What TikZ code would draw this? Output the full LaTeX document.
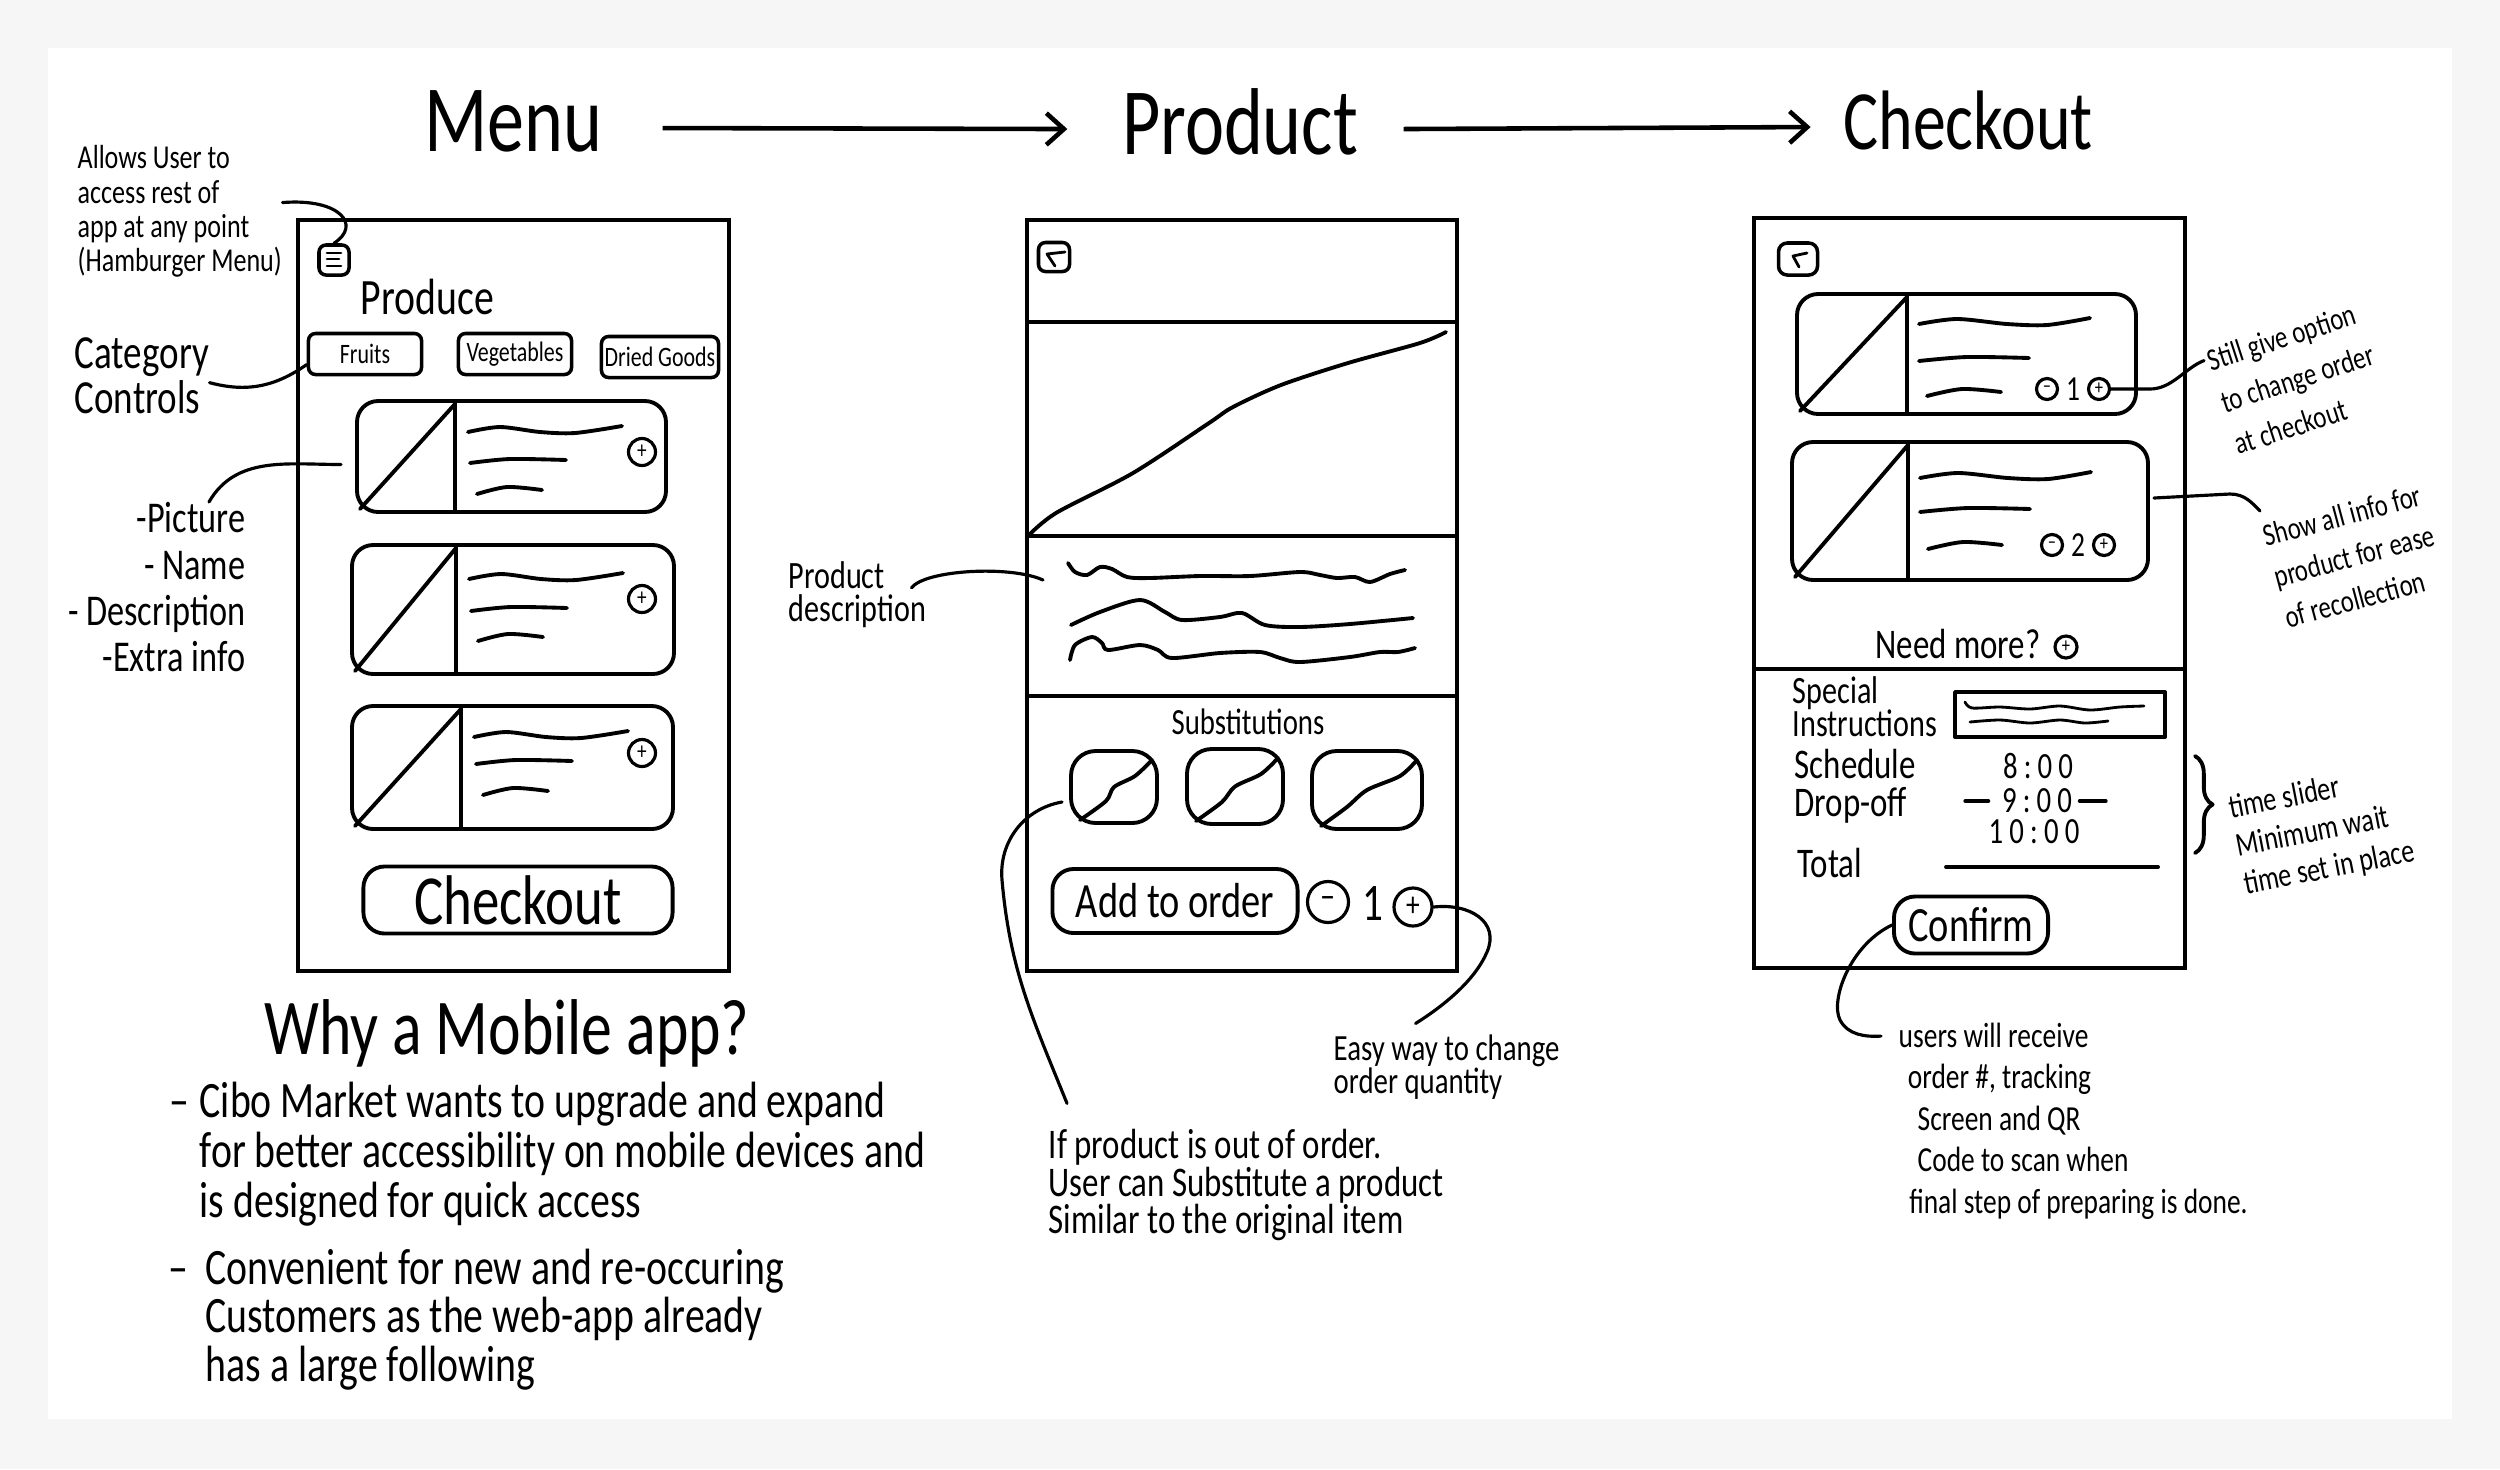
\documentclass[tikz,border=0pt]{standalone}
\usepackage{fontspec}
\setmainfont{Carlito}[FakeStretch=0.78]
\usetikzlibrary{arrows.meta,positioning,decorations.pathreplacing}

\begin{document}
\begin{tikzpicture}[
    x=0.01cm, y=-0.01cm,
    sketch/.style={line width=1.1pt, line cap=round, line join=round},
    screen/.style={draw, line width=1.3pt},
    lead/.style={line width=0.9pt, line cap=round},
    flow/.style={line width=1.3pt, -{Straight Barb[length=5pt, width=9pt]}},
    fs/.style 2 args={font=\fontsize{#1}{#2}\selectfont},
    title/.style={inner sep=0pt, fs={27}{30}},
    note/.style={align=left, inner sep=0pt, anchor=north west},
    btn/.style={draw, line width=1.1pt, rounded corners=6pt, inner sep=0pt},
    tab/.style={draw, line width=1pt, rounded corners=2pt, inner sep=0pt,
        minimum height=0.41cm, fs={8}{8}},
    qbtn/.style={draw, circle, line width=0.9pt, inner sep=0pt},
    icon/.style={draw, line width=1pt, inner sep=0pt}
]
\useasboundingbox (0,0) rectangle (2500,1469);
\fill[gray!7] (0,0) rectangle (2500,1469);
\fill[white] (48,48) rectangle (2452,1419);

% Titles and flow
\node[title] (menuT) at (513,121) {Menu};
\node[title] (productT) at (1240,122) {Product};
\node[title, fs={24}{26}] (checkoutT) at (1968,120) {Checkout};
\draw[flow] ([xshift=0.6cm,yshift=-2pt]menuT.east) -- ([xshift=-0.54cm,yshift=-2pt]productT.west);
\draw[flow] ([xshift=0.45cm,yshift=-2pt]productT.east) -- ([xshift=-0.32cm,yshift=-2pt]checkoutT.west);

% Menu screen
\draw[screen] (298,220) rectangle (729,971);
\node[icon, rounded corners=2pt, minimum width=0.30cm, minimum height=0.30cm] (hamb) at (334,260) {};
\draw[sketch, line width=0.8pt] (327,253) -- (341,253) (327,259) -- (339,259) (327,266) -- (341,266);
\node[fs={14.5}{15}, anchor=west, inner sep=0pt] (produce) at (360,297) {Produce};
\node[tab, minimum width=1.13cm] (fruits) at (365,354) {Fruits};
\node[tab, minimum width=1.13cm] (veggies) at (515,354) {Vegetables};
\node[tab, minimum width=1.17cm] (dried) at (660,357) {Dried Goods};
\foreach \nn/\xl/\yt/\xr/\yb/\dv/\ra/\rb/\rc/\py in {1/357/401/666/512/455/430/461/491/452,
    2/352/545/674/674/456/577/609/638/599, 3/352/706/673/829/461/735/762/792/753} {
  \draw[sketch, rounded corners=6pt] (\xl,\yt) rectangle (\xr,\yb);
  \draw[sketch] (\dv,\yt) -- (\dv,\yb);
  \draw[sketch] (\xl+3,\yb-3) -- (\dv,\yt+3);
  \draw[sketch] plot[smooth] coordinates {(\dv+13,\ra+2) (\dv+45,\ra-3) (\dv+85,\ra+2) (\dv+120,\ra+3) (\dv+167,\ra-4)};
  \draw[sketch] plot[smooth] coordinates {(\dv+15,\rb+2) (\dv+55,\rb-2) (\dv+111,\rb-1)};
  \draw[sketch] plot[smooth] coordinates {(\dv+22,\rc+3) (\dv+52,\rc-4) (\dv+87,\rc-1)};
  \node[qbtn, minimum size=0.27cm, fs={7}{7}] (mplus\nn) at (642,\py) {+};
  \coordinate (mcard\nn) at (\xl-16,{(\yt+\yb)/2+8});
}
\node[btn, minimum width=3.09cm, minimum height=0.67cm, fs={20}{20}] (checkoutBtn) at (518,900) {Checkout};

% Menu notes
\node[note, fs={9.5}{9.7}] (hambNote) at (77,145) {Allows User to\\access rest of\\app at any point\\(Hamburger Menu)};
\node[note, fs={13.5}{9.8}] (catNote) at (74,337) {Category\\Controls};
\node[note, anchor=north east, align=right, fs={12.5}{13.1}] (picNote) at (246,502) {-Picture\\- Name\\- Description\\-Extra info};
\draw[lead] ([yshift=2.5pt]hambNote.east) .. controls (340,198) and (362,225) .. (hamb.north);
\draw[lead] ([yshift=-2pt]catNote.east) to[out=-15, in=215] ([yshift=-3pt]fruits.west);
\draw[lead] ([xshift=-0.37cm]picNote.north east) to[out=60, in=180] (mcard1);

% Why a mobile app
\node[fs={22.5}{24}] (whyT) at (507,1033) {Why a Mobile app?};
\node[note, fs={14.5}{14.2}] (why1) at (199,1081) {\llap{–\hspace{3pt}}Cibo Market wants to upgrade and expand\\for better accessibility on mobile devices and\\is designed for quick access};
\node[note, fs={14.5}{13.8}] (why2) at (205,1248) {\llap{–\hspace{5pt}}Convenient for new and re-occuring\\Customers as the web-app already\\has a large following};

% Product screen
\draw[screen] (1027,220) rectangle (1457,971);
\draw[screen] (1027,322) -- (1457,322) (1027,536) -- (1457,536) (1027,696) -- (1457,696);
\node[icon, rounded corners=2pt, minimum width=0.31cm, minimum height=0.29cm] (prodBack) at (1054,257) {};
\draw[sketch, line width=0.8pt] (1065,252) -- (1047,254) -- (1055,266);
\draw[sketch] plot[smooth] coordinates {(1027,537) (1056,513) (1133,473) (1209,423) (1233,407) (1281,385) (1348,363) (1420,343) (1446,332)};
\draw[sketch] plot[smooth] coordinates {(1068,563) (1075,572) (1087,575) (1100,567) (1112,569) (1127,577) (1150,578) (1200,576) (1250,576) (1300,572) (1320,575) (1337,578) (1355,577) (1370,582) (1390,574) (1405,570)};
\draw[sketch] plot[smooth] coordinates {(1071,625) (1100,612) (1140,600) (1165,612) (1182,620) (1220,617) (1242,613) (1265,625) (1300,627) (1350,624) (1413,618)};
\draw[sketch] plot[smooth] coordinates {(1070,660) (1075,645) (1092,637) (1102,643) (1108,650) (1140,645) (1158,650) (1172,658) (1220,653) (1260,652) (1280,658) (1300,662) (1350,657) (1380,652) (1398,652) (1415,648)};
\coordinate (desc) at (1043,580);
\node[fs={10.5}{10.5}] (substT) at (1248,722) {Substitutions};
\foreach \nn/\xl/\yt/\xr/\yb in {1/1071/751/1157/823, 2/1187/749/1283/824, 3/1312/751/1422/829} {
  \draw[sketch, rounded corners=7pt] (\xl,\yt) rectangle (\xr,\yb);
  \draw[sketch] plot[smooth] coordinates {(\xl+9,\yb-3) (\xl+35,\yb-22) ({(\xl+\xr)/2},{(\yt+\yb)/2}) (\xr-22,\yt+25) (\xr-5,\yt+9)};
  \coordinate (sub\nn) at (\xl-9,{(\yt+\yb)/2+15});
}
\node[btn, minimum width=2.45cm, minimum height=0.64cm, fs={14}{14}] (addBtn) at (1175,901) {Add to order};
\node[qbtn, minimum size=0.41cm, fs={11}{11}] (qminus) at (1328,902) {–};
\node[fs={15}{15}, inner sep=0pt] (qnum) at (1373,904) {1};
\node[qbtn, minimum size=0.38cm, fs={10}{10}] (qplus) at (1413,907) {+};

% Product notes
\node[note, fs={11}{9.4}] (descNote) at (788,561) {Product\\description};
\node[note, fs={10.5}{9.5}] (easyNote) at (1333,1034) {Easy way to change\\order quantity};
\node[note, fs={12}{10.8}] (ifNote) at (1048,1128) {If product is out of order.\\User can Substitute a product\\Similar to the original item};
\draw[lead] ([xshift=-0.15cm,yshift=2pt]descNote.east) .. controls (925,570) and (1010,565) .. (desc);
\draw[lead] (sub1) to[out=190, in=95] (1002,880) to[out=-85, in=112] ([xshift=0.19cm,yshift=7pt]ifNote.north west);
\draw[lead] (qplus.east) .. controls (1470,903) and (1500,922) .. (1487,952) .. controls (1475,980) and (1445,1005) .. ([xshift=-0.31cm,yshift=3pt]easyNote.north);

% Checkout screen
\draw[screen] (1754,218) rectangle (2185,968);
\draw[screen] (1754,669) -- (2185,669);
\node[icon, rounded corners=2.5pt, minimum width=0.39cm, minimum height=0.32cm] (coBack) at (1798,259) {};
\draw[sketch, line width=0.8pt] (1807,253) -- (1793,256) -- (1799,267);
\foreach \nn/\xl/\yt/\xr/\yb/\dv/\ra/\rb/\rc/\py/\mx in {1/1797/294/2136/414/1907/322/359/393/389/2047,
    2/1792/442/2148/580/1908/476/510/546/545/2052} {
  \draw[sketch, rounded corners=6pt] (\xl,\yt) rectangle (\xr,\yb);
  \draw[sketch] (\dv,\yt) -- (\dv,\yb);
  \draw[sketch] (\xl+3,\yb-3) -- (\dv,\yt+3);
  \draw[sketch] plot[smooth] coordinates {(\dv+12,\ra+2) (\dv+50,\ra-3) (\dv+100,\ra+2) (\dv+140,\ra+3) (\dv+183,\ra-4)};
  \draw[sketch] plot[smooth] coordinates {(\dv+12,\rb+2) (\dv+60,\rb-2) (\dv+122,\rb-1)};
  \draw[sketch] plot[smooth] coordinates {(\dv+20,\rc+3) (\dv+55,\rc-4) (\dv+94,\rc-1)};
  \node[qbtn, minimum size=0.21cm, fs={6}{6}] (cminus\nn) at (\mx,\py) {–};
  \node[fs={10}{10}, inner sep=0pt] (cnum\nn) at (\mx+26,\py) {\nn};
  \node[qbtn, minimum size=0.21cm, fs={6}{6}] (cplus\nn) at (\mx+52,\py) {+};
  \coordinate (ccard\nn) at (\xr+6,{(\yt+\yb)/2-13});
}
\node[fs={12}{12}] (needMore) at (1958,644) {Need more?};
\node[qbtn, minimum size=0.22cm, fs={6}{6}] (morePlus) at (2066,647) {+};
\node[note, fs={11}{9.4}] (special) at (1792,676) {Special\\Instructions};
\draw[sketch] (1955,692) rectangle (2165,737);
\draw[sketch, line width=0.8pt] plot[smooth] coordinates {(1965,702) (1972,708) (2000,707) (2030,709) (2060,706) (2090,710) (2120,707) (2144,706)};
\draw[sketch, line width=0.8pt] plot[smooth] coordinates {(1970,722) (2000,720) (2030,723) (2060,720) (2085,723) (2108,721)};
\node[note, fs={12}{11}] (schedule) at (1794,748) {Schedule\\Drop-off};
\node[fs={10.5}{10.5}, inner sep=0pt] (t8) at (2038,766) {8\,:\,0\,0};
\node[fs={10.5}{10.5}, inner sep=0pt] (t9) at (2037,801) {9\,:\,0\,0};
\node[fs={10.5}{10.5}, inner sep=0pt] (t10) at (2034,832) {1\,0\,:\,0\,0};
\draw[sketch] ([xshift=-0.36cm]t9.west) -- ([xshift=-0.13cm]t9.west);
\draw[sketch] ([xshift=0.07cm]t9.east) -- ([xshift=0.33cm]t9.east);
\node[fs={12}{12}, anchor=west, inner sep=0pt] (total) at (1797,863) {Total};
\draw[sketch] (1946,867) -- (2158,867);
\node[btn, minimum width=1.54cm, minimum height=0.57cm, fs={14}{14}] (confirm) at (1971,925) {Confirm};
\draw[sketch, decorate, decoration={brace, amplitude=5pt}] (2195,756) -- (2195,853);

% Checkout notes
\node[note, rotate=18, fs={9}{12.5}] (stillNote) at (2204,350) {Still give option\\to change order\\at checkout};
\node[note, rotate=15, fs={9}{12}] (showNote) at (2260,525) {Show all info for\\product for ease\\of recollection};
\node[note, rotate=11, fs={9.5}{11}] (timeNote) at (2226,795) {time slider\\Minimum wait\\time set in place};
\node[note, fs={10}{11.8}] (usersNote) at (1898,1022) {users will receive\\\hspace*{2.6pt}order \#, tracking\\\hspace*{5.4pt}Screen and QR\\\hspace*{5.4pt}Code to scan when\\\hspace*{3pt}final step of preparing is done.};
\draw[lead] (cplus1.east) -- (2150,389) .. controls (2172,389) and (2185,368) .. ([yshift=-3pt]stillNote.north west);
\draw[lead] (ccard2) -- (2230,494) .. controls (2245,494) and (2252,503) .. ([yshift=4pt]showNote.north west);
\draw[lead] (confirm.west) .. controls (1850,945) and (1830,1000) .. (1840,1020) .. controls (1848,1035) and (1865,1037) .. ([xshift=-0.17cm,yshift=-4pt]usersNote.north west);
\end{tikzpicture}
\end{document}
